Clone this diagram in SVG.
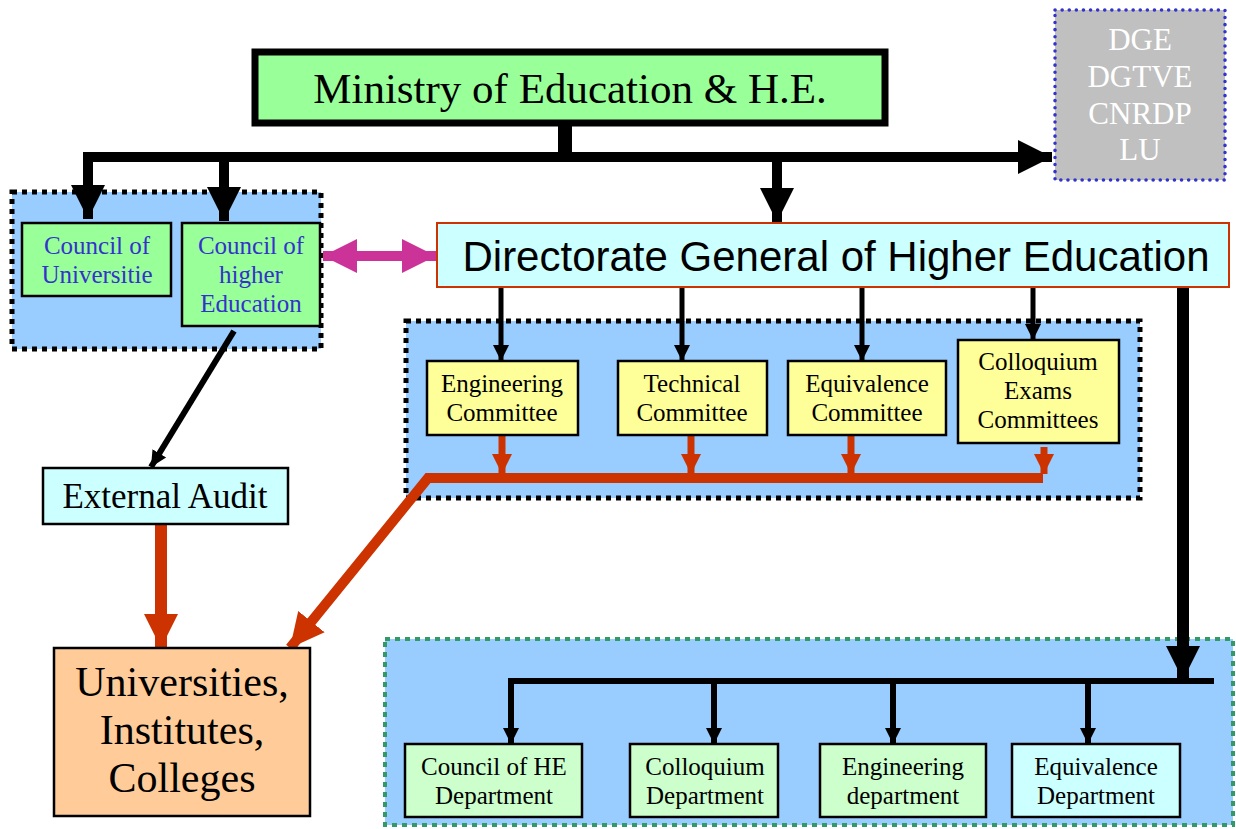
<svg xmlns="http://www.w3.org/2000/svg" width="1236" height="829" viewBox="0 0 1236 829">
<style>
.serif{font-family:"Liberation Serif","Times New Roman",serif;text-anchor:middle}
.sans{font-family:"Liberation Sans",Arial,sans-serif;text-anchor:middle}
.cont{fill:#99ccff;stroke:#000;stroke-width:5;stroke-dasharray:5 5}
.box{stroke:#000;stroke-width:2.5}
.blk{stroke:#000;fill:none}
.red{stroke:#cc3300;fill:none}
</style>
<defs>
<marker id="ab" markerUnits="userSpaceOnUse" viewBox="0 0 10 10" refX="10" refY="5" markerWidth="16" markerHeight="20" orient="auto"><path d="M0,0L10,5L0,10z" fill="#000"/></marker>
<marker id="abL" markerUnits="userSpaceOnUse" viewBox="0 0 10 10" refX="10" refY="5" markerWidth="34" markerHeight="36" orient="auto"><path d="M0,0L10,5L0,10z" fill="#000"/></marker>
<marker id="ar" markerUnits="userSpaceOnUse" viewBox="0 0 10 10" refX="10" refY="5" markerWidth="20" markerHeight="22" orient="auto"><path d="M0,0L10,5L0,10z" fill="#cc3300"/></marker>
<marker id="arL" markerUnits="userSpaceOnUse" viewBox="0 0 10 10" refX="10" refY="5" markerWidth="34" markerHeight="36" orient="auto"><path d="M0,0L10,5L0,10z" fill="#cc3300"/></marker>
<marker id="am" markerUnits="userSpaceOnUse" viewBox="0 0 10 10" refX="10" refY="5" markerWidth="34" markerHeight="36" orient="auto-start-reverse"><path d="M0,0L10,5L0,10z" fill="#cc3399"/></marker>
</defs>

<!-- containers -->
<rect id="left-container" class="cont" x="12" y="192" width="309" height="157"/>
<rect id="committee-container" class="cont" x="406" y="321" width="734" height="177"/>
<rect id="dept-container" x="385" y="639" width="848" height="186" fill="#99ccff" stroke="#339966" stroke-width="4" stroke-dasharray="5 5"/>

<g id="connectors">
<!-- ministry bus -->
<line class="blk" x1="565" y1="125" x2="565" y2="157" stroke-width="14"/>
<line class="blk" x1="83" y1="157" x2="1052" y2="157" stroke-width="10" marker-end="url(#abL)"/>
<line class="blk" x1="88" y1="155" x2="88" y2="219" stroke-width="10" marker-end="url(#abL)"/>
<line class="blk" x1="224" y1="155" x2="224" y2="221" stroke-width="10" marker-end="url(#abL)"/>
<line class="blk" x1="777" y1="155" x2="777" y2="222" stroke-width="10" marker-end="url(#abL)"/>
<!-- magenta double arrow -->
<line x1="323" y1="256" x2="436" y2="256" stroke="#cc3399" stroke-width="10" marker-start="url(#am)" marker-end="url(#am)"/>
<!-- DGHE to committees -->
<line class="blk" x1="501" y1="287" x2="501" y2="361" stroke-width="5" marker-end="url(#ab)"/>
<line class="blk" x1="682" y1="287" x2="682" y2="361" stroke-width="5" marker-end="url(#ab)"/>
<line class="blk" x1="862" y1="287" x2="862" y2="361" stroke-width="5" marker-end="url(#ab)"/>
<line class="blk" x1="1033" y1="287" x2="1033" y2="340" stroke-width="5" marker-end="url(#ab)"/>
<!-- committee red arrows -->
<line class="red" x1="502" y1="435" x2="502" y2="474" stroke-width="7" marker-end="url(#ar)"/>
<line class="red" x1="691" y1="435" x2="691" y2="474" stroke-width="7" marker-end="url(#ar)"/>
<line class="red" x1="851" y1="435" x2="851" y2="474" stroke-width="7" marker-end="url(#ar)"/>
<line class="red" x1="1044" y1="447" x2="1044" y2="474" stroke-width="7" marker-end="url(#ar)"/>
<polyline class="red" points="1043,478 428,478 290,648" stroke-width="10" marker-end="url(#arL)"/>
<!-- council to external audit -->
<line class="blk" x1="234" y1="331" x2="151" y2="467" stroke-width="6" marker-end="url(#ab)"/>
<!-- external audit to universities -->
<line class="red" x1="161" y1="521" x2="161" y2="648" stroke-width="12" marker-end="url(#arL)"/>
<!-- DGHE to departments -->
<line class="blk" x1="1183" y1="287" x2="1183" y2="680" stroke-width="12" marker-end="url(#abL)"/>
<polyline class="blk" points="1214,681 511,681 511,744" stroke-width="6" marker-end="url(#ab)"/>
<line class="blk" x1="714" y1="681" x2="714" y2="744" stroke-width="6" marker-end="url(#ab)"/>
<line class="blk" x1="893" y1="681" x2="893" y2="744" stroke-width="6" marker-end="url(#ab)"/>
<line class="blk" x1="1088" y1="681" x2="1088" y2="744" stroke-width="6" marker-end="url(#ab)"/>
</g>

<g id="ministry">
<rect x="255" y="52" width="630" height="71" fill="#99ff99" stroke="#000" stroke-width="7"/>
<text class="serif" x="570" y="103" font-size="43">Ministry of Education &amp; H.E.</text>
</g>

<g id="dge">
<rect x="1055" y="10" width="170" height="170" fill="#c0c0c0" stroke="#3333cc" stroke-width="3.5" stroke-dasharray="0.1 7" stroke-linecap="round"/>
<text class="serif" fill="#fff" font-size="31"><tspan x="1140" y="50">DGE</tspan><tspan x="1140" y="87">DGTVE</tspan><tspan x="1140" y="124">CNRDP</tspan><tspan x="1140" y="160">LU</tspan></text>
</g>

<g id="council-universities">
<rect class="box" x="22" y="223" width="149" height="73" fill="#99ff99"/>
<text class="serif" fill="#3333cc" font-size="25"><tspan x="97" y="254">Council of</tspan><tspan x="97" y="283">Universitie</tspan></text>
</g>

<g id="council-higher-education">
<rect class="box" x="182" y="223" width="138" height="103" fill="#99ff99"/>
<text class="serif" fill="#3333cc" font-size="25"><tspan x="251" y="254">Council of</tspan><tspan x="251" y="283">higher</tspan><tspan x="251" y="312">Education</tspan></text>
</g>

<g id="dghe">
<rect x="437" y="223" width="792" height="64" fill="#ccffff" stroke="#cc3300" stroke-width="2"/>
<text class="sans" x="836" y="271" font-size="42">Directorate General of Higher Education</text>
</g>

<g id="engineering-committee">
<rect class="box" x="427" y="361" width="151" height="74" fill="#ffff99"/>
<text class="serif" font-size="25"><tspan x="502" y="392">Engineering</tspan><tspan x="502" y="421">Committee</tspan></text>
</g>
<g id="technical-committee">
<rect class="box" x="618" y="361" width="149" height="74" fill="#ffff99"/>
<text class="serif" font-size="25"><tspan x="692" y="392">Technical</tspan><tspan x="692" y="421">Committee</tspan></text>
</g>
<g id="equivalence-committee">
<rect class="box" x="788" y="361" width="158" height="74" fill="#ffff99"/>
<text class="serif" font-size="25"><tspan x="867" y="392">Equivalence</tspan><tspan x="867" y="421">Committee</tspan></text>
</g>
<g id="colloquium-committees">
<rect class="box" x="958" y="340" width="161" height="103" fill="#ffff99"/>
<text class="serif" font-size="25"><tspan x="1038" y="370">Colloquium</tspan><tspan x="1038" y="399">Exams</tspan><tspan x="1038" y="428">Committees</tspan></text>
</g>

<g id="external-audit">
<rect class="box" x="43" y="468" width="245" height="56" fill="#ccffff"/>
<text class="serif" x="165" y="508" font-size="35">External Audit</text>
</g>

<g id="universities">
<rect class="box" x="54" y="648" width="256" height="168" fill="#ffcc99"/>
<text class="serif" font-size="42"><tspan x="182" y="696">Universities,</tspan><tspan x="182" y="744">Institutes,</tspan><tspan x="182" y="792">Colleges</tspan></text>
</g>

<g id="council-he-dept">
<rect class="box" x="405" y="744" width="177" height="73" fill="#ccffcc"/>
<text class="serif" font-size="25"><tspan x="494" y="775">Council of HE</tspan><tspan x="494" y="804">Department</tspan></text>
</g>
<g id="colloquium-dept">
<rect class="box" x="630" y="744" width="148" height="73" fill="#ccffcc"/>
<text class="serif" font-size="25"><tspan x="705" y="775">Colloquium</tspan><tspan x="705" y="804">Department</tspan></text>
</g>
<g id="engineering-dept">
<rect class="box" x="820" y="744" width="166" height="73" fill="#ccffcc"/>
<text class="serif" font-size="25"><tspan x="903" y="775">Engineering</tspan><tspan x="903" y="804">department</tspan></text>
</g>
<g id="equivalence-dept">
<rect class="box" x="1012" y="744" width="168" height="73" fill="#ccffff"/>
<text class="serif" font-size="25"><tspan x="1096" y="775">Equivalence</tspan><tspan x="1096" y="804">Department</tspan></text>
</g>
</svg>
